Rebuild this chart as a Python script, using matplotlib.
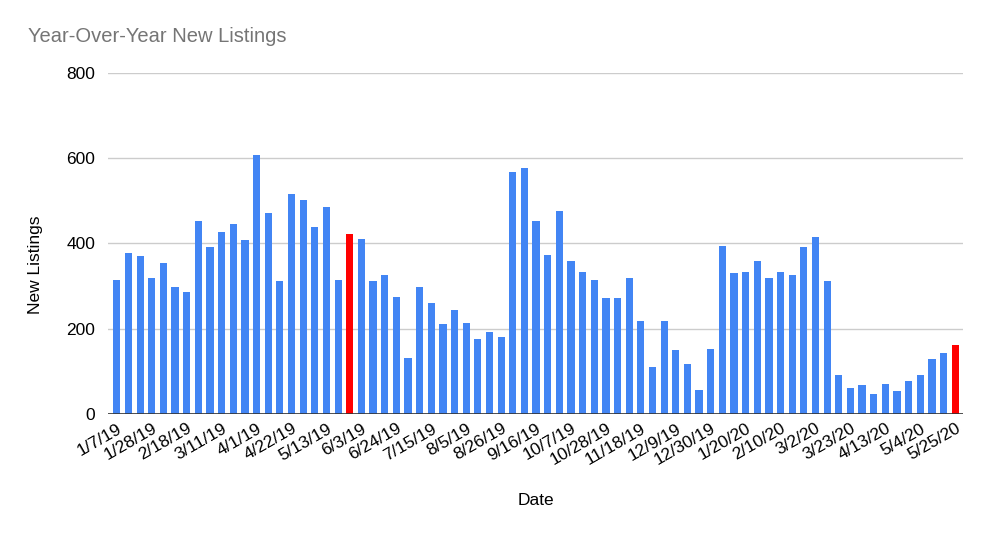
import matplotlib.pyplot as plt
import numpy as np
import pandas as pd

plt.rcParams['font.family'] = ['Liberation Sans', 'DejaVu Sans']

# weekly new listings, 1/7/19 .. 5/25/20
weeks = pd.date_range('2019-01-07', '2020-05-25', freq='7D')
listings = [315, 378, 370, 319, 353, 299, 285, 452, 391, 428,
            445, 407, 608, 472, 313, 517, 503, 439, 486, 315,
            421, 411, 313, 325, 275, 131, 299, 261, 210, 245,
            213, 176, 193, 180, 567, 578, 452, 374, 475, 360,
            333, 315, 271, 271, 319, 217, 111, 217, 149, 118,
            57, 152, 395, 330, 333, 360, 319, 333, 326, 391,
            414, 313, 91, 60, 67, 47, 71, 53, 77, 91,
            128, 142, 163]
highlight = ['2019-05-27', '2020-05-25']  # memorial day weeks in red

labels = ['{}/{}/{}'.format(d.month, d.day, d.strftime('%y')) for d in weeks]
colors = ['#ff0000' if d.strftime('%Y-%m-%d') in highlight else '#4285f4'
          for d in weeks]

fig = plt.figure(figsize=(9.9, 5.36), dpi=100)
ax = fig.add_axes([0.109, 0.2276, 0.864, 0.6364])

x = np.arange(len(weeks))
ax.bar(x, listings, width=0.62, color=colors, zorder=3)

ax.set_ylim(0, 800)
ax.set_xlim(-0.77, len(weeks) - 0.31)
ax.set_yticks([0, 200, 400, 600, 800])
ax.grid(axis='y', color='#cccccc', linewidth=1, zorder=0)
ax.axhline(0, color='#333333', linewidth=1.2, zorder=4)

ax.set_xticks(x[::3])
ax.set_xticklabels(labels[::3], rotation=30, ha='right', rotation_mode='anchor')
ax.tick_params(axis='x', length=0, pad=5, labelsize=12.5)
ax.tick_params(axis='y', length=0, pad=9, labelsize=12.5)

for s in ax.spines.values():
    s.set_visible(False)

ax.set_ylabel('New Listings', fontsize=12.5)
ax.yaxis.set_label_coords(-0.076, 0.437)
ax.set_xlabel('Date', fontsize=12.5, labelpad=18)
fig.text(0.0283, 0.9216, 'Year-Over-Year New Listings', fontsize=14.5,
         color='#757575', ha='left', va='baseline')

fig.savefig('out.png', dpi=100)
